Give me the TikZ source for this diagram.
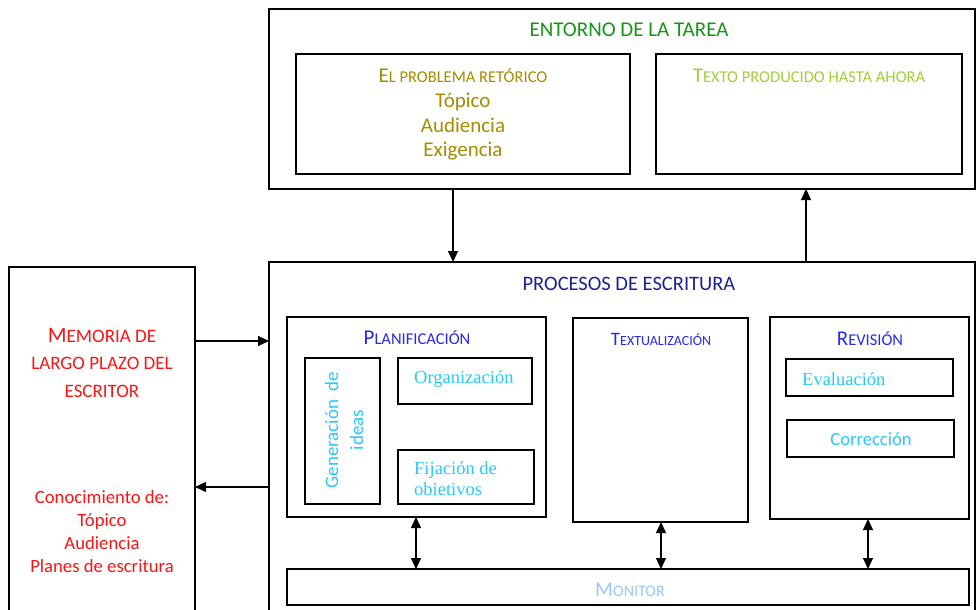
\documentclass[tikz,border=0pt]{standalone}
\usepackage{fontspec}
\setmainfont{Carlito}
\newfontfamily\tnr{Liberation Serif}
\usetikzlibrary{arrows.meta,calc}
\definecolor{cgreen}{RGB}{20,150,20}
\definecolor{colive}{RGB}{165,140,0}
\definecolor{cyell}{RGB}{165,205,60}
\definecolor{cdblue}{RGB}{30,30,150}
\definecolor{cblue}{RGB}{40,40,240}
\definecolor{ccyan}{RGB}{40,200,250}
\definecolor{cred}{RGB}{250,20,20}
\definecolor{clblue}{RGB}{150,200,255}
\newcommand{\fsc}[4][21pt]{{\fontsize{#1}{#1}\selectfont #3}{\fontsize{#2}{#2}\selectfont #4}}
\newcommand{\fz}[1]{\fontsize{#1}{#1}\selectfont}
\begin{document}
\begin{tikzpicture}[x=1pt,y=-1pt,
  box/.style={draw, line width=1.1pt, anchor=north west, inner sep=0pt, outer sep=0pt},
  txt/.style={inner sep=0pt, font=\fz{21pt}},
  btxt/.style={txt, anchor=base},
  serif/.style={txt, text=ccyan, anchor=west, align=left, font=\tnr\fontsize{18.5pt}{21pt}\selectfont},
  arr/.style={line width=1.1pt, -{Triangle[length=11pt,width=10pt]}},
  darr/.style={line width=1.1pt, {Triangle[length=11pt,width=10pt]}-{Triangle[length=11pt,width=10pt]}}]
\useasboundingbox (0,0) rectangle (978,610);
\clip (0,0) rectangle (978,610);
% boxes
\node[box, minimum width=706pt, minimum height=180pt] (entorno) at (269,9) {};
\node[box, minimum width=334pt, minimum height=120pt] (problema) at (296,54) {};
\node[box, minimum width=306pt, minimum height=120pt] (texto) at (656,54) {};
\node[box, minimum width=706pt, minimum height=360pt] (procesos) at (269,262) {};
\node[box, minimum width=186pt, minimum height=355pt] (memoria) at (9,267) {};
\node[box, minimum width=259pt, minimum height=200pt] (plan) at (287,317) {};
\node[box, minimum width=75pt, minimum height=146pt] (gen) at (305,358) {};
\node[box, minimum width=134pt, minimum height=46pt] (org) at (398,358) {};
\node[box, minimum width=136pt, minimum height=54pt] (fij) at (398,450) {};
\node[box, minimum width=175pt, minimum height=204pt] (textual) at (573,318) {};
\node[box, minimum width=199pt, minimum height=202pt] (rev) at (770,317) {};
\node[box, minimum width=167pt, minimum height=37pt] (eval) at (786,359) {};
\node[box, minimum width=167pt, minimum height=37pt] (corr) at (787,420) {};
\node[box, minimum width=682pt, minimum height=36pt] (monitor) at (287,569) {};
% texts
\node[txt, text=cgreen] (tEntorno) at (629,30) {ENTORNO DE LA TAREA};
\node[btxt, text=colive] (tProb) at (463,82) {\fsc{16.5pt}{E}{L PROBLEMA RETÓRICO}};
\node[btxt, text=colive] (tProb1) at (463,107) {Tópico};
\node[btxt, text=colive] (tProb2) at (463,132) {Audiencia};
\node[btxt, text=colive] (tProb3) at (463,157) {Exigencia};
\node[txt, text=cyell] (tTexto) at (809,76) {\fsc{16.5pt}{T}{EXTO PRODUCIDO HASTA AHORA}};
\node[txt, text=cdblue, font=\fz{20.5pt}] (tProc) at (629,284) {PROCESOS DE ESCRITURA};
\node[btxt, text=cred] (tMem1) at (102,342) {\fsc[22pt]{19pt}{M}{EMORIA DE}};
\node[btxt, text=cred, font=\fz{19pt}] (tMem2) at (102,369) {LARGO PLAZO DEL};
\node[btxt, text=cred, font=\fz{19pt}] (tMem3) at (102,397) {ESCRITOR};
\node[btxt, text=cred, font=\fz{18.7pt}] (tCon1) at (102,503) {Conocimiento de:};
\node[btxt, text=cred, font=\fz{18.7pt}] (tCon2) at (102,526) {Tópico};
\node[btxt, text=cred, font=\fz{18.7pt}] (tCon3) at (102,549) {Audiencia};
\node[btxt, text=cred, font=\fz{18.7pt}] (tCon4) at (102,572) {Planes de escritura};
\node[txt, text=cblue] (tPlan) at (417,338) {\fsc{16.5pt}{P}{LANIFICACIÓN}};
\node[txt, text=ccyan, rotate=90, align=center, font=\fontsize{19pt}{25pt}\selectfont] (tGen) at (344,430) {Generación\ \ de\\ideas};
\node[serif] (tOrg) at (414,379) {Organización};
\node[serif] (tFij) at (414,479) {Fijación de\\obietivos};
\node[txt, text=cblue] (tTextual) at (661,339) {\fsc[19pt]{14pt}{T}{EXTUALIZACIÓN}};
\node[txt, text=cblue] (tRev) at (870,339) {\fsc{16.5pt}{R}{EVISIÓN}};
\node[serif] (tEval) at (802,379) {Evaluación};
\node[txt, text=ccyan, font=\fz{18.6pt}] (tCorr) at (871,439) {Corrección};
\node[txt, text=clblue] (tMon) at (630,590) {\fsc{16pt}{M}{ONITOR}};
% connectors
\coordinate (c1) at (453,0);
\coordinate (c2) at (806,0);
\coordinate (c3) at (0,341);
\coordinate (c4) at (0,487);
\coordinate (c5) at (416,0);
\coordinate (c6) at (661,0);
\coordinate (c7) at (868,0);
\draw[arr] (entorno.south -| c1) -- (procesos.north -| c1);
\draw[arr] (procesos.north -| c2) -- (entorno.south -| c2);
\draw[arr] (memoria.east |- c3) -- (procesos.west |- c3);
\draw[arr] (procesos.west |- c4) -- (memoria.east |- c4);
\draw[darr] (plan.south -| c5) -- (monitor.north -| c5);
\draw[darr] (textual.south -| c6) -- (monitor.north -| c6);
\draw[darr] (rev.south -| c7) -- (monitor.north -| c7);
\end{tikzpicture}
\end{document}
